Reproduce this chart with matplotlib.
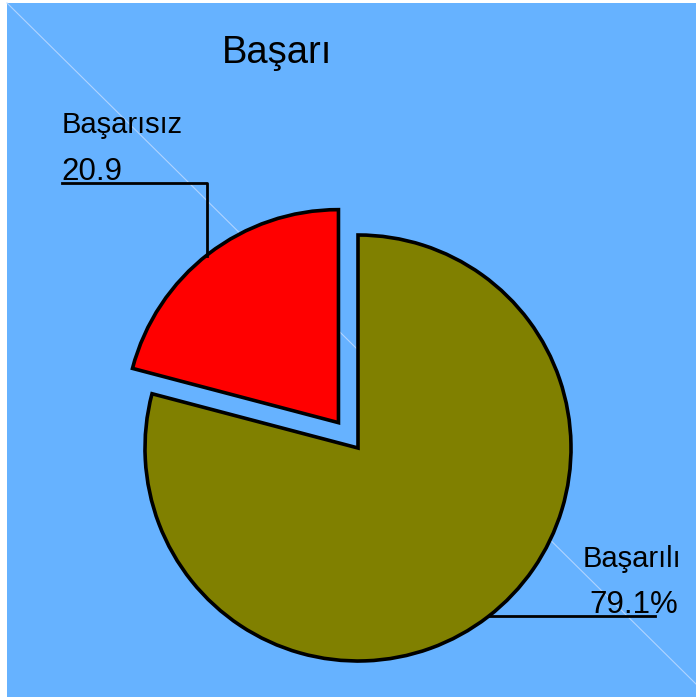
import matplotlib.pyplot as plt
from matplotlib.patches import Rectangle

plt.rcParams['font.family'] = ['Liberation Sans', 'DejaVu Sans']

# data
labels = ['Başarılı', 'Başarısız']
values = [79.1, 20.9]
value_text = ['79.1%', '20.9']
colors = ['#808000', '#FF0000']
title = 'Başarı'

W, H = 696, 697
fig = plt.figure(figsize=(W / 100, H / 100), dpi=100)
fig.patch.set_facecolor('white')

# one axes in pixel units (y up)
ax = fig.add_axes([0, 0, 1, 1])

bg = '#66B2FF'
ax.add_patch(Rectangle((7, 0), W - 7, H - 3, facecolor=bg, edgecolor='none', zorder=0))
# faint diagonal line
ax.plot([7, W], [H - 3, H - 684], color='#B0D4FF', lw=0.8, zorder=1)

cx, cy, r = 358, H - 448, 213
# explode is in data units here (pixels)
ax.pie(values, colors=colors, startangle=90, counterclock=False,
       explode=[0, 32], center=(cx, cy), radius=r, frame=True,
       wedgeprops=dict(edgecolor='black', linewidth=2.6, zorder=2))
ax.set_xlim(0, W)
ax.set_ylim(0, H)
ax.set_aspect('auto')
ax.axis('off')

# title
ax.text(277, H - 63, title, fontsize=27.5, ha='center', va='baseline', zorder=5)

# Başarısız label + leader
ax.text(62, H - 133, labels[1], fontsize=21, ha='left', va='baseline', zorder=5)
ax.text(61, H - 180, value_text[1], fontsize=22.5, ha='left', va='baseline', zorder=5)
ax.plot([62, 207, 207], [H - 183, H - 183, H - 256], color='black', lw=2, zorder=4)

# Başarılı label + leader
ax.text(583, H - 567, labels[0], fontsize=21, ha='left', va='baseline', zorder=5)
ax.text(589, H - 613, value_text[0], fontsize=22.5, ha='left', va='baseline', zorder=5)
ax.plot([489, 655], [H - 616, H - 616], color='black', lw=2, zorder=4)

fig.savefig('out.png', dpi=100, facecolor=fig.get_facecolor())
